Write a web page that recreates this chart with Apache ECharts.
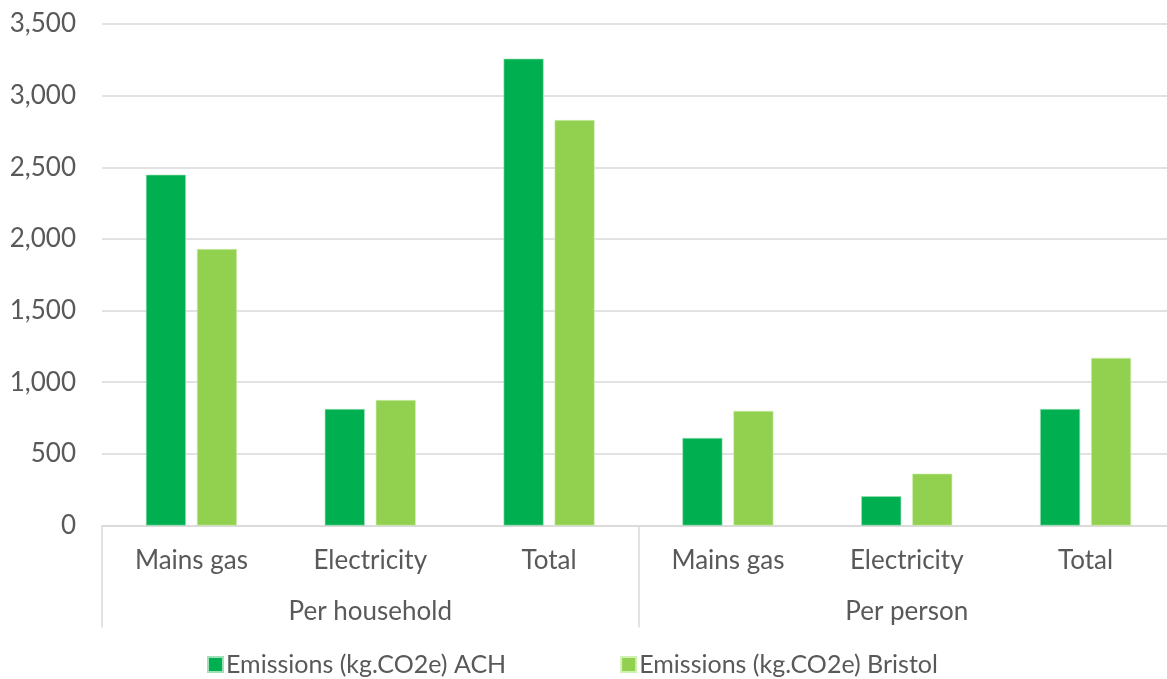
<!DOCTYPE html>
<html>
<head>
<meta charset="utf-8">
<style>
  html, body { margin: 0; padding: 0; background: #ffffff; overflow: hidden; }
  #chart { width: 1175px; height: 679px; }
</style>
<script src="https://cdn.jsdelivr.net/npm/echarts@6/dist/echarts.min.js"></script>
</head>
<body>
<div id="chart"></div>
<script>
// Emissions categories, grouped into per-household and per-person figures
const categories = ['Mains gas', 'Electricity', 'Total', 'Mains gas', 'Electricity', 'Total'];
const groups = ['Per household', 'Per person'];
const seriesNames = ['Emissions (kg.CO2e) ACH', 'Emissions (kg.CO2e) Bristol'];
const achValues = [2448, 813, 3258, 611, 204, 813];
const bristolValues = [1930, 876, 2830, 800, 362, 1170];

const textColor = '#595959';
const fontFamily = 'Lato, "Open Sans", sans-serif';
const gridColor = '#d9d9d9';

const chart = echarts.init(document.getElementById('chart'), null, { renderer: 'canvas' });

chart.setOption({
  animation: false,
  textStyle: { fontFamily: fontFamily, color: textColor },
  grid: { left: 102, right: 0, top: 24, bottom: 153.5, containLabel: false },
  legend: {
    data: seriesNames,
    top: 647,
    left: 202,
    itemWidth: 15,
    itemHeight: 15,
    itemGap: 114,
    icon: 'rect',
    textStyle: { fontSize: 25, color: textColor, fontFamily: fontFamily, padding: [0, 0, 0, -2] }
  },
  xAxis: [
    {
      type: 'category',
      data: categories,
      position: 'bottom',
      axisLine: { show: true, lineStyle: { color: gridColor, width: 1.5 } },
      axisTick: { show: false },
      axisLabel: { fontSize: 26, color: textColor, margin: 22, interval: 0 }
    },
    {
      type: 'category',
      data: groups,
      position: 'bottom',
      axisLine: { show: false },
      axisTick: { show: true, length: 102, interval: 0, lineStyle: { color: gridColor, width: 1.5 } },
      axisLabel: { fontSize: 26, color: textColor, margin: 73, interval: 0 },
      splitLine: { show: false }
    }
  ],
  yAxis: {
    type: 'value',
    min: 0,
    max: 3500,
    interval: 500,
    axisLine: { show: false },
    axisTick: { show: false },
    axisLabel: {
      fontSize: 26,
      color: textColor,
      margin: 26,
      formatter: v => v.toLocaleString('en-US')
    },
    splitLine: { lineStyle: { color: gridColor, width: 1.5 } }
  },
  series: [
    {
      name: seriesNames[0],
      type: 'bar',
      xAxisIndex: 0,
      data: achValues,
      barWidth: 40,
      barGap: '27.5%',
      itemStyle: { color: '#00B050', borderColor: '#9fe0b8', borderWidth: 0.6 }
    },
    {
      name: seriesNames[1],
      type: 'bar',
      xAxisIndex: 0,
      data: bristolValues,
      barWidth: 40,
      barGap: '27.5%',
      itemStyle: { color: '#92D050', borderColor: '#d2efb5', borderWidth: 0.6 }
    }
  ]
});
</script>
</body>
</html>
